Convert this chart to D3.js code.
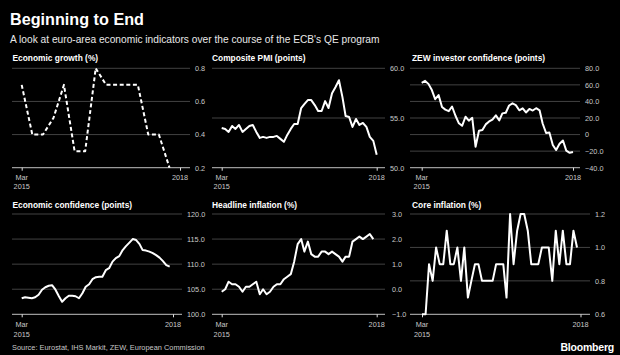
<!DOCTYPE html>
<html><head><meta charset="utf-8">
<script src="https://cdn.jsdelivr.net/npm/d3@7"></script>
<style>
html,body{margin:0;padding:0;background:#000;}
svg{display:block;}
text{font-family:"Liberation Sans",Arial,sans-serif;}
</style></head>
<body><svg id="c" width="620" height="355"></svg>
<script>
// ---------- text ----------
const titleText = "Beginning to End";
const subtitleText = "A look at euro-area economic indicators over the course of the ECB's QE program";
const sourceText = "Source: Eurostat, IHS Markit, ZEW, European Commission";
const brandText = "Bloomberg";
const panelTitles = ["Economic growth (%)", "Composite PMI (points)", "ZEW investor confidence (points)",
                     "Economic confidence (points)", "Headline inflation (%)", "Core inflation (%)"];
const axisStart = "2015-03-01";
const axisEnd = "2018-12-01";
const startTickLabel = ["Mar", "2015"];
const endTickLabel = ["2018"];

// ---------- data ----------
// quarterly, first value = Q1 2015 (plotted at quarter-end month)
const growthStart = "2015-03-01";
const growthValues = [0.7, 0.4, 0.4, 0.5, 0.7, 0.3, 0.3, 0.8, 0.7, 0.7, 0.7, 0.7, 0.4, 0.4, 0.2];
// monthly, starting Mar 2015
const monthlyStart = "2015-03-01";
const pmiValues = [54.0, 53.9, 53.6, 54.2, 53.9, 54.3, 53.6, 53.9, 54.2, 54.3,
  53.6, 53.0, 53.1, 53.0, 53.1, 53.1, 53.2, 52.9, 52.6, 53.3, 53.9, 54.4,
  54.4, 56.0, 56.4, 56.8, 56.8, 56.3, 55.7, 55.7, 56.7, 56.0, 57.5, 58.1,
  58.8, 57.1, 55.2, 55.1, 54.1, 54.9, 54.3, 54.5, 54.1, 53.1, 52.7, 51.3];
const zewValues = [62.4, 64.8, 61.2, 53.7, 42.7, 47.6, 33.3, 30.1, 28.3, 33.9,
  22.7, 13.6, 10.6, 21.5, 16.8, 20.2, -14.7, 4.6, 5.4, 12.3, 15.8, 18.1,
  23.2, 17.1, 25.6, 26.3, 35.1, 37.7, 35.6, 29.3, 31.7, 26.7, 30.9, 29.0,
  31.8, 29.3, 13.4, 1.9, 2.4, -12.6, -18.7, -11.1, -7.2, -19.4, -22.0, -21.0];
const confidenceValues = [103.2, 103.4, 103.3, 103.2, 103.4, 103.9, 104.9, 105.4, 105.7, 105.8,
  104.9, 103.6, 102.5, 103.2, 103.7, 103.7, 103.6, 103.2, 104.2, 105.5, 106.0, 107.0,
  107.4, 107.5, 107.5, 108.8, 109.2, 110.5, 111.2, 111.6, 112.8, 113.6, 114.3, 115.0,
  114.8, 114.0, 112.8, 112.7, 112.5, 112.2, 111.8, 111.3, 110.6, 109.8, 109.5];
const headlineValues = [-0.1, 0.0, 0.3, 0.2, 0.2, 0.1, -0.1, 0.1, 0.1, 0.2,
  0.3, -0.2, 0.0, -0.2, -0.1, 0.1, 0.2, 0.2, 0.4, 0.5, 0.6, 1.1,
  1.8, 2.0, 1.5, 1.9, 1.4, 1.3, 1.3, 1.5, 1.5, 1.4, 1.5, 1.4,
  1.3, 1.1, 1.3, 1.3, 1.9, 2.0, 2.1, 2.0, 2.1, 2.2, 2.0];
const coreValues = [0.6, 0.6, 0.9, 0.8, 1.0, 0.9, 0.9, 1.1, 0.9, 0.9,
  1.0, 0.8, 1.0, 0.7, 0.8, 0.9, 0.9, 0.8, 0.8, 0.8, 0.8, 0.9,
  0.9, 0.9, 0.7, 1.2, 0.9, 1.1, 1.2, 1.2, 1.1, 0.9, 0.9, 0.9,
  1.0, 1.0, 1.0, 0.8, 1.1, 0.9, 1.1, 0.9, 0.9, 1.1, 1.0];

// ---------- y ticks ----------
const growthTicks = [0.2, 0.4, 0.6, 0.8];
const pmiTicks = [50, 55, 60];
const zewTicks = [-40, -20, 0, 20, 40, 60, 80];
const confidenceTicks = [100, 105, 110, 115, 120];
const headlineTicks = [-1, 0, 1, 2, 3];
const coreTicks = [0.6, 0.8, 1.0, 1.2];

// ---------- build ----------
const parse = d3.timeParse("%Y-%m-%d");
function monthly(start, vals, step) {
  const s = parse(start);
  return vals.map((v, i) => ({date: d3.timeMonth.offset(s, i * step), value: v}));
}
const fmt1 = d3.format(".1f");
const zewFmt = v => v === 0 ? "0" : fmt1(v);

const panels = [
  {title: panelTitles[0], data: monthly(growthStart, growthValues, 3), ticks: growthTicks, fmt: fmt1, dashed: true},
  {title: panelTitles[1], data: monthly(monthlyStart, pmiValues, 1), ticks: pmiTicks, fmt: fmt1},
  {title: panelTitles[2], data: monthly(monthlyStart, zewValues, 1), ticks: zewTicks, fmt: zewFmt},
  {title: panelTitles[3], data: monthly(monthlyStart, confidenceValues, 1), ticks: confidenceTicks, fmt: fmt1},
  {title: panelTitles[4], data: monthly(monthlyStart, headlineValues, 1), ticks: headlineTicks, fmt: fmt1},
  {title: panelTitles[5], data: monthly(monthlyStart, coreValues, 1), ticks: coreTicks, fmt: fmt1}
];

// layout (pixel positions per panel)
const layout = [
  {tx: 12.5, ty: 61,    x0: 12,  x1: 190, xa: 21.7,  xb: 180,   yTop: 68.3, yBot: 167.7, lx: 195, l1: 180.3, l2: 189.2},
  {tx: 212,  ty: 61,    x0: 212, x1: 385, xa: 221.7, xb: 376.7, yTop: 68.3, yBot: 167.7, lx: 390, l1: 180.3, l2: 189.2},
  {tx: 412,  ty: 61,    x0: 410, x1: 580, xa: 421.7, xb: 573,   yTop: 68.3, yBot: 167.7, lx: 585, l1: 180.3, l2: 189.2},
  {tx: 12.5, ty: 207.7, x0: 12,  x1: 182, xa: 21.7,  xb: 173,   yTop: 214,  yBot: 314.3, lx: 187, l1: 327,   l2: 336.5},
  {tx: 212,  ty: 207.7, x0: 212, x1: 385, xa: 221.7, xb: 376.7, yTop: 214,  yBot: 314.3, lx: 392, l1: 327,   l2: 336.5},
  {tx: 412,  ty: 207.7, x0: 410, x1: 590, xa: 422,   xb: 580.5, yTop: 214,  yBot: 314.3, lx: 595, l1: 327,   l2: 336.5}
];

const svg = d3.select("#c");
svg.append("rect").attr("width", 620).attr("height", 355).attr("fill", "#000");

svg.append("text").attr("x", 10).attr("y", 25).attr("fill", "#fff")
  .attr("font-size", 16.2).attr("font-weight", "bold").text(titleText);
svg.append("text").attr("x", 10).attr("y", 42.5).attr("fill", "#e8e8e8")
  .attr("font-size", 10.2).text(subtitleText);

const t0 = parse(axisStart), t1 = parse(axisEnd);

panels.forEach((p, i) => {
  const L = layout[i];
  const g = svg.append("g");
  const x = d3.scaleTime().domain([t0, t1]).range([L.xa, L.xb]);
  const y = d3.scaleLinear().domain(d3.extent(p.ticks)).range([L.yBot, L.yTop]);

  // gridlines
  g.selectAll("line.grid").data(p.ticks).join("line")
    .attr("x1", L.x0).attr("x2", L.x1)
    .attr("y1", d => y(d)).attr("y2", d => y(d))
    .attr("stroke", (d, k) => k === 0 ? "#9a9a9a" : "#424242")
    .attr("stroke-width", (d, k) => k === 0 ? 1.2 : 1);

  // y labels via axis
  const yAxis = d3.axisRight(y).tickValues(p.ticks).tickFormat(p.fmt).tickSize(0).tickPadding(0);
  const ya = g.append("g").attr("transform", `translate(${L.lx},0)`).call(yAxis);
  ya.select(".domain").remove();
  ya.selectAll("text").attr("fill", "#c8c8c8").attr("font-size", 7.3)
    .attr("font-family", '"Liberation Sans",Arial,sans-serif');

  // x ticks
  const xa = d3.axisBottom(x).tickValues([t0, t1]).tickSize(3).tickFormat(() => "");
  const xg = g.append("g").attr("transform", `translate(0,${y(p.ticks[0])})`).call(xa);
  xg.select(".domain").remove();
  xg.selectAll("line").attr("stroke", "#e0e0e0");
  const labs = [[t0, startTickLabel], [t1, endTickLabel]];
  labs.forEach(([d, lines]) => {
    lines.forEach((s, k) => {
      g.append("text").attr("x", x(d)).attr("y", k === 0 ? L.l1 : L.l2)
        .attr("text-anchor", "middle").attr("fill", "#c8c8c8").attr("font-size", 7.3).text(s);
    });
  });

  // line
  const line = d3.line().x(d => x(d.date)).y(d => y(d.value));
  g.append("path").datum(p.data).attr("d", line)
    .attr("fill", "none").attr("stroke", "#fff")
    .attr("stroke-width", 2)
    .attr("stroke-linejoin", "round")
    .attr("stroke-dasharray", p.dashed ? "4,2.6" : null);

  // title
  svg.append("text").attr("x", L.tx).attr("y", L.ty).attr("fill", "#fff")
    .attr("font-size", 8.4).attr("font-weight", "bold").text(p.title);
});

svg.append("text").attr("x", 12).attr("y", 349.5).attr("fill", "#c8c8c8")
  .attr("font-size", 7.4).text(sourceText);
svg.append("text").attr("x", 614).attr("y", 351).attr("text-anchor", "end").attr("fill", "#fff")
  .attr("font-size", 10.5).attr("font-weight", "bold").attr("letter-spacing", -0.2).text(brandText);
</script>
</body></html>
